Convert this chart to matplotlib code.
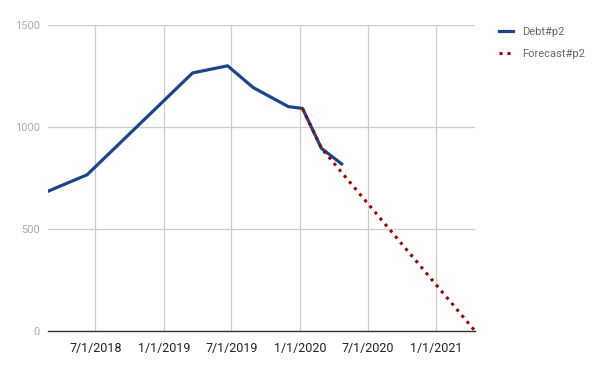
import numpy as np
import pandas as pd
import matplotlib
matplotlib.use("Agg")
import matplotlib.pyplot as plt
import matplotlib.dates as mdates

plt.rcParams['font.family'] = ['Roboto', 'DejaVu Sans']

# Debt series
debt_dates = ["2018-02-24", "2018-06-09", "2019-03-19", "2019-06-21",
              "2019-08-29", "2019-12-01", "2020-01-08", "2020-02-28", "2020-04-22"]
debt_vals = [685, 766, 1265, 1300, 1193, 1100, 1091, 895, 819]

# Forecast series
fc_dates = ["2020-01-08", "2020-02-28", "2021-04-15"]
fc_vals = [1091, 895, 0]

x_ticks = ["2018-07-01", "2019-01-01", "2019-07-01", "2020-01-01", "2020-07-01", "2021-01-01"]
y_ticks = [0, 500, 1000, 1500]

debt_dates = pd.to_datetime(debt_dates)
fc_dates = pd.to_datetime(fc_dates)
x_ticks = pd.to_datetime(x_ticks)

fig = plt.figure(figsize=(6, 3.71), dpi=100)
ax = fig.add_axes([0.08, 0.1078, 0.7117, 0.8248])

ax.plot(debt_dates, debt_vals, color="#1c4587", lw=2.3, label="Debt#p2",
        solid_joinstyle="round", zorder=3)
ax.plot(fc_dates, fc_vals, color="#990000", lw=2.2, ls=(0, (1, 1.6)),
        label="Forecast#p2", zorder=4)

ax.set_xlim(pd.Timestamp("2018-02-24"), pd.Timestamp("2021-04-15"))
ax.set_ylim(0, 1500)
ax.set_xticks(x_ticks)
ax.xaxis.set_major_formatter(mdates.DateFormatter("%-m/%-d/%Y"))
ax.set_yticks(y_ticks)

ax.grid(True, color="#cccccc", lw=0.9)
ax.set_axisbelow(True)
for s in ["top", "right", "left"]:
    ax.spines[s].set_visible(False)
ax.spines["bottom"].set_color("#333333")
ax.spines["bottom"].set_linewidth(1.0)
ax.spines["bottom"].set_zorder(5)

ax.tick_params(axis="x", length=0, pad=8, labelsize=9, labelcolor="#222222")
ax.tick_params(axis="y", length=0, pad=6, labelsize=8, labelcolor="#aaaaaa")

leg = fig.legend(loc="upper left", bbox_to_anchor=(0.815, 0.955), frameon=False,
                 fontsize=8, handlelength=1.3, labelspacing=1.1, handletextpad=0.8)
for t in leg.get_texts():
    t.set_color("#666666")

fig.savefig("out.png", dpi=100)
